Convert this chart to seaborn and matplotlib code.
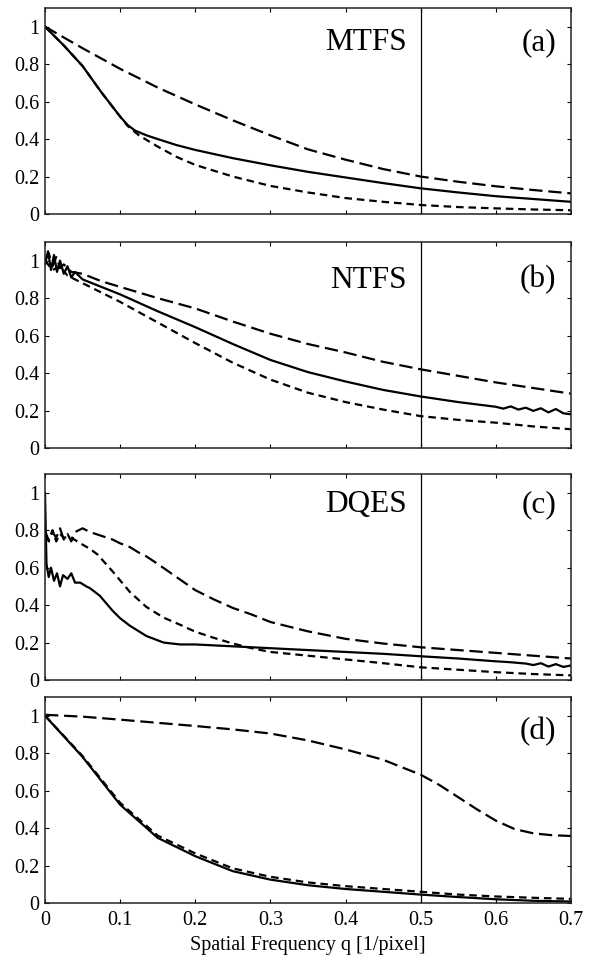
import numpy as np
import pandas as pd
import matplotlib
matplotlib.use("Agg")
import matplotlib.pyplot as plt
import seaborn as sns

# ---- data ----
# (a) MTFS
a_long_x = [0, 0.05, 0.1, 0.15, 0.2, 0.25, 0.3, 0.35, 0.4, 0.45, 0.5, 0.55, 0.6, 0.65, 0.7]
a_long_y = [1.0, 0.885, 0.775, 0.675, 0.585, 0.5, 0.42, 0.345, 0.29, 0.24, 0.20, 0.172, 0.148, 0.128, 0.11]
a_solid_x = [0, 0.025, 0.05, 0.075, 0.1, 0.11, 0.12, 0.135, 0.15, 0.175, 0.2, 0.25, 0.3, 0.35, 0.4, 0.45, 0.5, 0.55, 0.6, 0.65, 0.7]
a_solid_y = [1.0, 0.9, 0.79, 0.65, 0.52, 0.475, 0.445, 0.42, 0.40, 0.368, 0.342, 0.298, 0.26, 0.225, 0.195, 0.165, 0.137, 0.115, 0.095, 0.08, 0.065]
a_short_x = [0, 0.025, 0.05, 0.075, 0.1, 0.11, 0.125, 0.15, 0.175, 0.2, 0.25, 0.3, 0.35, 0.4, 0.45, 0.5, 0.55, 0.6, 0.65, 0.7]
a_short_y = [1.0, 0.9, 0.79, 0.65, 0.52, 0.47, 0.42, 0.36, 0.305, 0.262, 0.20, 0.15, 0.115, 0.085, 0.065, 0.048, 0.037, 0.03, 0.024, 0.02]

# (b) NTFS
b_long_x = [0, 0.005, 0.01, 0.015, 0.02, 0.025, 0.035, 0.05, 0.075, 0.1, 0.15, 0.2, 0.25, 0.3, 0.35, 0.4, 0.45, 0.5, 0.55, 0.6, 0.65, 0.7]
b_long_y = [1.0, 1.04, 0.97, 1.02, 0.96, 0.98, 0.94, 0.93, 0.89, 0.86, 0.80, 0.745, 0.675, 0.61, 0.555, 0.51, 0.46, 0.42, 0.385, 0.35, 0.32, 0.29]
b_solid_x = [0, 0.004, 0.008, 0.012, 0.016, 0.02, 0.025, 0.03, 0.035, 0.04, 0.05, 0.075, 0.1, 0.15, 0.2, 0.25, 0.3, 0.35, 0.4, 0.45, 0.5, 0.55, 0.6,
             0.61, 0.62, 0.63, 0.64, 0.65, 0.66, 0.67, 0.68, 0.69, 0.7]
b_solid_y = [0.98, 1.05, 0.95, 1.03, 0.94, 1.0, 0.93, 0.97, 0.91, 0.94, 0.90, 0.86, 0.82, 0.73, 0.645, 0.555, 0.47, 0.405, 0.355, 0.31, 0.275, 0.245, 0.22,
             0.21, 0.222, 0.205, 0.215, 0.198, 0.212, 0.19, 0.208, 0.185, 0.18]
b_short_x = [0, 0.01, 0.02, 0.03, 0.05, 0.075, 0.1, 0.15, 0.2, 0.25, 0.3, 0.35, 0.4, 0.45, 0.5, 0.55, 0.6, 0.65, 0.7]
b_short_y = [1.0, 0.95, 0.97, 0.92, 0.88, 0.83, 0.78, 0.67, 0.56, 0.455, 0.365, 0.295, 0.245, 0.205, 0.17, 0.15, 0.135, 0.115, 0.10]

# (c) DQES
c_long_x = [0, 0.005, 0.01, 0.015, 0.02, 0.025, 0.03, 0.035, 0.04, 0.05, 0.06, 0.075, 0.09, 0.1, 0.113, 0.125, 0.135, 0.15, 0.175, 0.2, 0.225, 0.25, 0.275, 0.3, 0.35, 0.4, 0.45, 0.5, 0.55, 0.6, 0.65, 0.7]
c_long_y = [0.80, 0.74, 0.79, 0.76, 0.81, 0.75, 0.78, 0.74, 0.79, 0.81, 0.79, 0.77, 0.75, 0.73, 0.71, 0.68, 0.66, 0.62, 0.55, 0.48, 0.43, 0.385, 0.35, 0.31, 0.26, 0.22, 0.195, 0.175, 0.16, 0.145, 0.13, 0.115]
c_solid_x = [0, 0.002, 0.005, 0.008, 0.012, 0.016, 0.02, 0.024, 0.03, 0.035, 0.04, 0.047, 0.055, 0.06, 0.073, 0.09, 0.1, 0.113, 0.135, 0.158, 0.18, 0.2, 0.25, 0.3, 0.35, 0.4, 0.45, 0.5, 0.55, 0.6,
             0.62, 0.64, 0.65, 0.66, 0.67, 0.68, 0.69, 0.7]
c_solid_y = [1.0, 0.62, 0.55, 0.60, 0.53, 0.57, 0.50, 0.56, 0.54, 0.57, 0.52, 0.52, 0.50, 0.49, 0.45, 0.37, 0.33, 0.29, 0.235, 0.20, 0.19, 0.19, 0.18, 0.17, 0.16, 0.15, 0.14, 0.127, 0.115, 0.10,
             0.095, 0.088, 0.08, 0.09, 0.072, 0.085, 0.07, 0.078]
c_short_x = [0, 0.005, 0.01, 0.015, 0.02, 0.025, 0.033, 0.047, 0.06, 0.07, 0.09, 0.113, 0.135, 0.158, 0.18, 0.2, 0.225, 0.25, 0.275, 0.3, 0.35, 0.4, 0.45, 0.5, 0.55, 0.6, 0.65, 0.7]
c_short_y = [0.78, 0.75, 0.80, 0.74, 0.78, 0.76, 0.765, 0.73, 0.70, 0.67, 0.58, 0.47, 0.39, 0.333, 0.295, 0.258, 0.225, 0.195, 0.17, 0.15, 0.13, 0.11, 0.09, 0.068, 0.055, 0.042, 0.032, 0.025]

# (d)
d_long_x = [0, 0.05, 0.1, 0.15, 0.2, 0.25, 0.3, 0.35, 0.4, 0.45, 0.5, 0.525, 0.55, 0.575, 0.6, 0.625, 0.65, 0.675, 0.7]
d_long_y = [1.005, 0.995, 0.979, 0.962, 0.945, 0.927, 0.905, 0.868, 0.82, 0.765, 0.685, 0.63, 0.565, 0.5, 0.44, 0.395, 0.372, 0.362, 0.358]
d_solid_x = [0, 0.05, 0.1, 0.15, 0.2, 0.25, 0.3, 0.35, 0.4, 0.45, 0.5, 0.55, 0.6, 0.65, 0.7]
d_solid_y = [1.0, 0.78, 0.525, 0.348, 0.25, 0.17, 0.125, 0.095, 0.075, 0.06, 0.045, 0.032, 0.02, 0.012, 0.008]
d_short_x = [0, 0.05, 0.1, 0.15, 0.2, 0.25, 0.3, 0.35, 0.4, 0.45, 0.5, 0.55, 0.6, 0.65, 0.7]
d_short_y = [1.0, 0.785, 0.535, 0.36, 0.265, 0.185, 0.14, 0.11, 0.09, 0.075, 0.06, 0.045, 0.035, 0.028, 0.022]

panels = [
    ("MTFS", "(a)", 0.83, (a_long_x, a_long_y), (a_solid_x, a_solid_y), (a_short_x, a_short_y)),
    ("NTFS", "(b)", 0.815, (b_long_x, b_long_y), (b_solid_x, b_solid_y), (b_short_x, b_short_y)),
    ("DQES", "(c)", 0.85, (c_long_x, c_long_y), (c_solid_x, c_solid_y), (c_short_x, c_short_y)),
    ("", "(d)", 0.83, (d_long_x, d_long_y), (d_solid_x, d_solid_y), (d_short_x, d_short_y)),
]
y_ticks = [0, 0.2, 0.4, 0.6, 0.8, 1.0]
y_tick_labels = ["0", "0.2", "0.4", "0.6", "0.8", "1"]
x_ticks = [0, 0.1, 0.2, 0.3, 0.4, 0.5, 0.6, 0.7]
x_tick_labels = ["0", "0.1", "0.2", "0.3", "0.4", "0.5", "0.6", "0.7"]

sns.set_style("white")
plt.rcParams["font.family"] = ["Liberation Serif", "DejaVu Serif"]
plt.rcParams["text.color"] = "black"
plt.rcParams["axes.labelcolor"] = "black"
plt.rcParams["xtick.color"] = "black"
plt.rcParams["ytick.color"] = "black"

fig = plt.figure(figsize=(5.99, 9.57), dpi=100)
bottoms = [0.7764, 0.5319, 0.2894, 0.0564]
left, width, height = 0.0751, 0.878, 0.2153

for (name, tag, ty, longd, solid, short), b in zip(panels, bottoms):
    ax = fig.add_axes([left, b, width, height])
    sns.lineplot(x=longd[0], y=longd[1], ax=ax, color="black", lw=1.6,
                 sort=False).lines[-1].set_dashes((6, 2.6))
    sns.lineplot(x=solid[0], y=solid[1], ax=ax, color="black", lw=1.6, sort=False)
    sns.lineplot(x=short[0], y=short[1], ax=ax, color="black", lw=1.6,
                 sort=False).lines[-1].set_dashes((3.4, 2.2))
    ax.axvline(0.5, color="black", lw=0.9)
    ax.set_xlim(0, 0.7)
    ax.set_ylim(0, 1.1)
    ax.set_yticks(y_ticks)
    ax.set_yticklabels(y_tick_labels, fontsize=14.5)
    ax.set_xticks(x_ticks)
    ax.tick_params(direction="in", length=3, width=0.8, top=True, right=True,
                   left=True, bottom=True, pad=6)
    ax.tick_params(axis="y", pad=4)
    for sp in ax.spines.values():
        sp.set_color("#222222")
        sp.set_linewidth(1.1)
    ax.set_ylabel("")
    if tag == "(d)":
        ax.set_xticklabels(x_tick_labels, fontsize=14.5)
        ax.set_xlabel("Spatial Frequency q [1/pixel]", fontsize=14.5, labelpad=4)
    else:
        ax.set_xticklabels([])
        ax.set_xlabel("")
    if name:
        ax.text(0.688, ty, name, transform=ax.transAxes, ha="right", va="center", fontsize=22.5)
    ax.text(0.972, ty, tag, transform=ax.transAxes, ha="right", va="center", fontsize=22.5)

fig.savefig("out.png", dpi=100)
